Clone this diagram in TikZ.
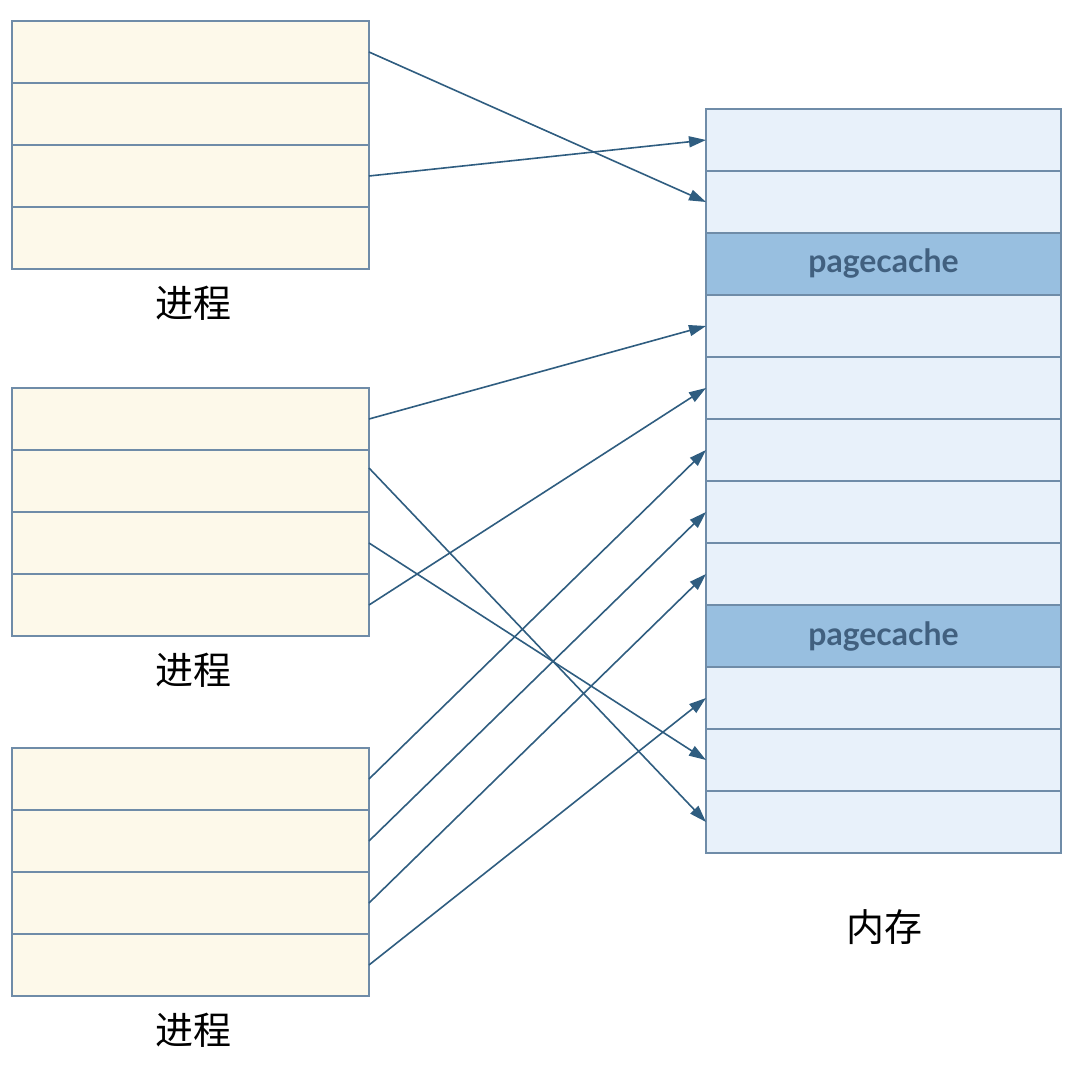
\documentclass[tikz,border=0pt]{standalone}
\usepackage{fontspec}
\setmainfont{Lato}
\newfontfamily\cjk{Noto Sans CJK SC}
\usetikzlibrary{arrows.meta}
\definecolor{pfill}{HTML}{FDF9EA}
\definecolor{pline}{HTML}{6F8CA8}
\definecolor{mfill}{HTML}{E8F1FA}
\definecolor{pcfill}{HTML}{98BFE0}
\definecolor{pctext}{HTML}{41607F}
\definecolor{arr}{HTML}{2F5D80}
\tikzset{
  prow/.style={draw=pline,line width=1.2pt,fill=pfill,minimum width=357pt,minimum height=62pt,inner sep=0pt,outer sep=0pt},
  mrow/.style={draw=pline,line width=1.2pt,fill=mfill,minimum width=355pt,minimum height=62pt,inner sep=0pt,outer sep=0pt},
  pcrow/.style={mrow,fill=pcfill,font=\bfseries\fontsize{32}{36}\selectfont,text=pctext},
  lab/.style={font=\cjk\fontsize{38}{40}\selectfont},
  conn/.style={draw=arr,line width=1.6pt,-{Triangle[length=17pt,width=11pt]}}
}
\begin{document}
\begin{tikzpicture}[x=1pt,y=-1pt]
\useasboundingbox[fill=white] (0,0) rectangle (1080,1067);
% processes
\foreach \p/\top in {1/21,2/388,3/748}{
  \foreach \r in {1,2,3,4}{
    \node[prow] (p\p r\r) at (190.5,{\top+62*(\r-1)+31}) {};
  }
}
\node[lab] (l1) at (193,303) {进程};
\node[lab] (l2) at (193,670) {进程};
\node[lab] (l3) at (193,1030) {进程};
% memory
\foreach \r in {1,...,12}{
  \ifnum\r=3 \node[pcrow] (m\r) at (883.5,{109+62*(\r-1)+31}) {pagecache};
  \else\ifnum\r=9 \node[pcrow] (m\r) at (883.5,{109+62*(\r-1)+31}) {pagecache};
  \else \node[mrow] (m\r) at (883.5,{109+62*(\r-1)+31}) {};
  \fi\fi
}
\node[lab] (lm) at (884,927) {内存};
% connectors
\draw[conn] (p1r1.east) -- (m2.west);
\draw[conn] (p1r3.east) -- (m1.west);
\draw[conn] (p2r1.east) -- (m4.west);
\draw[conn] ([yshift=13pt]p2r2.east) -- (m12.west);
\draw[conn] (p2r3.east) -- (m11.west);
\draw[conn] (p2r4.east) -- (m5.west);
\draw[conn] (p3r1.east) -- (m6.west);
\draw[conn] (p3r2.east) -- (m7.west);
\draw[conn] (p3r3.east) -- (m8.west);
\draw[conn] (p3r4.east) -- (m10.west);
\end{tikzpicture}
\end{document}
